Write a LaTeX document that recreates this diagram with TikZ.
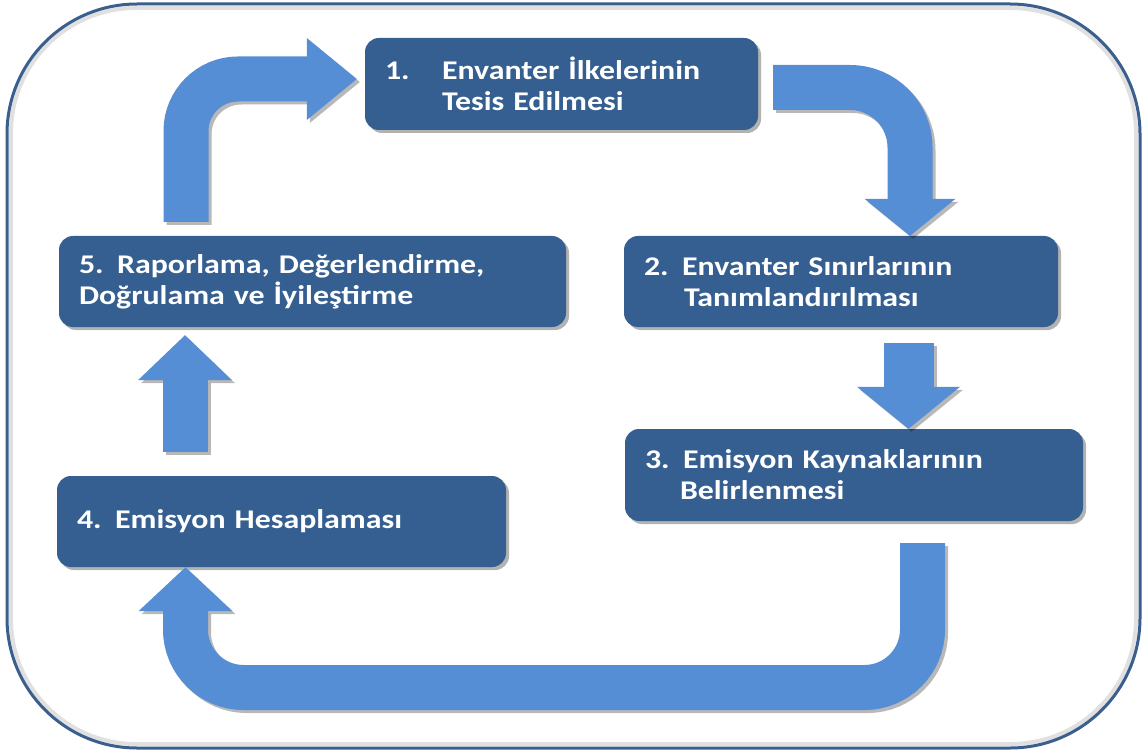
\documentclass[tikz,border=0pt]{standalone}
\usepackage{fontspec}
\setmainfont{Carlito}[FakeStretch=1.18]
\usetikzlibrary{arrows.meta,shadows}
\definecolor{boxblue}{HTML}{365F91}
\definecolor{arrblue}{HTML}{558ED5}
\definecolor{framecol}{HTML}{3A5E8E}
\newcommand\flow[2]{%
  \draw[arr,#1,draw=black,opacity=0.28,transform canvas={shift={(3pt,-3pt)}}] #2;
  \draw[arr,#1] #2;}
\begin{document}
\begin{tikzpicture}[x=1pt,y=-1pt,
  box/.style={fill=boxblue, rounded corners=14pt, text=white,
    font=\fontsize{27}{31}\selectfont\bfseries, align=left,
    inner xsep=20pt, inner ysep=0pt,
    drop shadow={shadow xshift=3pt, shadow yshift=-3pt, opacity=0.3, fill=black}},
  arr/.style={draw=arrblue, line width=45pt},
  tip/.style n args={2}{-{Triangle[length=#1 0 0, width=#2 0 0, line width=0pt 0 0]}}
]
\useasboundingbox (0,0) rectangle (1143,754);
\fill[white] (0,0) rectangle (1143,754);
% frame
\draw[black!12, line width=4pt, rounded corners=125pt] (11,8) rectangle (1136,744);
\draw[framecol, line width=3pt, rounded corners=130pt] (7,4) rectangle (1140,748);

% boxes
\node[box, text width=353pt, minimum height=92pt] (b1) at (561.5,84)
  {\makebox[57pt][l]{1.}Envanter İlkelerinin\\\hspace*{57pt}Tesis Edilmesi};
\node[box, text width=394pt, minimum height=91pt] (b2) at (841,281.5)
  {2. Envanter Sınırlarının\\\hspace*{40pt}Tanımlandırılması};
\node[box, text width=418pt, minimum height=92pt] (b3) at (854,475)
  {3. Emisyon Kaynaklarının\\\hspace*{35pt}Belirlenmesi};
\node[box, text width=409pt, minimum height=91pt] (b4) at (281.5,521.5)
  {4. Emisyon Hesaplaması};
\node[box, text width=467pt, minimum height=91pt] (b5) at (312.5,281.5)
  {5. Raporlama, Değerlendirme,\\Doğrulama ve İyileştirme};

\coordinate (bot) at (550,687.5);

% arrows
\flow{rounded corners=52pt, shorten <=14pt, shorten >=8pt, tip={50pt}{82pt}}
  {([xshift=-126.5pt]b5.north) |- ([yshift=5pt]b1.west)}
\flow{rounded corners=60pt, shorten <=15pt, tip={37pt}{91pt}}
  {([yshift=-3.5pt]b1.east) -| ([xshift=69pt]b2.north)}
\flow{line width=50pt, shorten <=16pt, tip={42pt}{103pt}}
  {([xshift=67.5pt]b2.south) -- ([xshift=67.5pt]b2.south |- b3.north)}
\flow{rounded corners=58pt, shorten <=22pt, tip={44pt}{94pt}}
  {([xshift=68.5pt]b3.south) |- (bot) -| ([xshift=-96pt]b4.south)}
\flow{shorten <=24pt, shorten >=8pt, tip={45pt}{94pt}}
  {([xshift=-96.5pt]b4.north) -- ([xshift=-96.5pt]b4.north |- b5.south)}
\end{tikzpicture}
\end{document}
